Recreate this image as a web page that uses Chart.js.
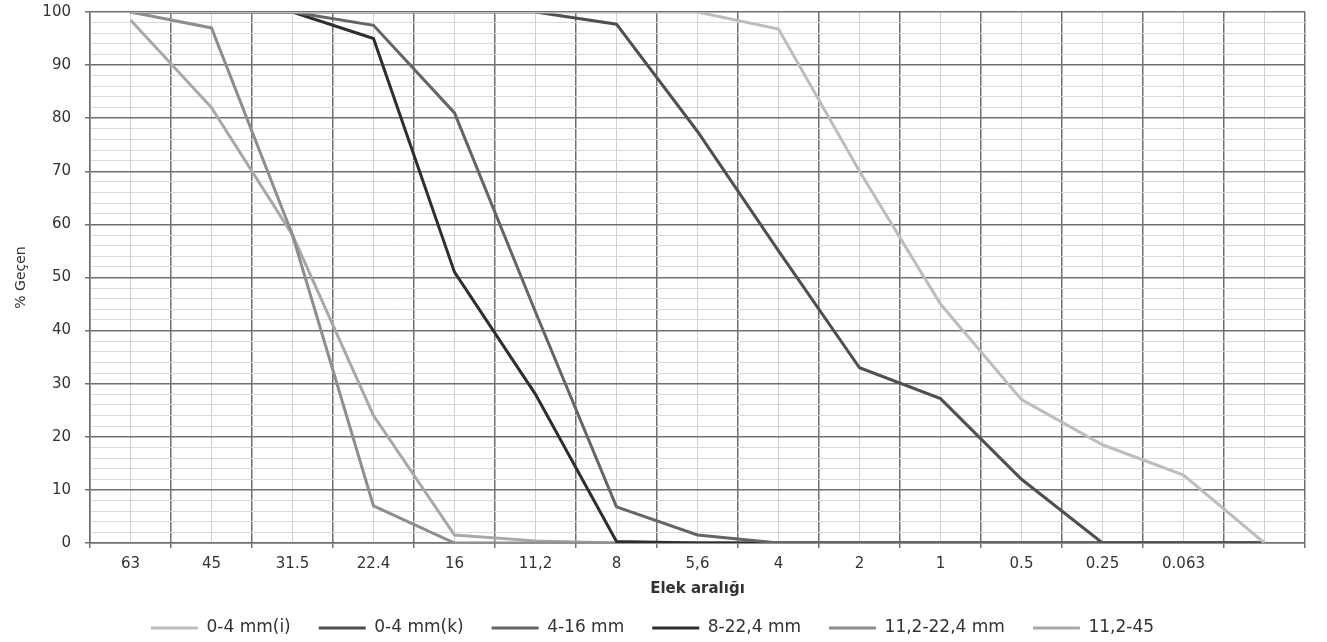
<!DOCTYPE html>
<html>
<head>
<meta charset="utf-8">
<script src="https://cdn.jsdelivr.net/npm/chart.js@4.4.0/dist/chart.umd.min.js"></script>
<style>
  html, body { margin: 0; padding: 0; background: #fff; }
  #chart { display: block; }
</style>
</head>
<body>
<canvas id="chart" width="1327" height="642"></canvas>
<script>
// sieve openings (last column is the pan, no label)
const sieves = ['63', '45', '31.5', '22.4', '16', '11,2', '8', '5,6', '4', '2', '1', '0.5', '0.25', '0.063', ''];

// % passing
const fine_i    = [100, 100, 100, 100, 100, 100, 100, 100, 96.8, 70, 45, 27, 18.5, 12.8, 0];
const fine_k    = [100, 100, 100, 100, 100, 100, 97.7, 77.5, 55, 33, 27.2, 12, 0, 0, 0];
const mid_4_16  = [100, 100, 100, 97.5, 81, 43.5, 6.8, 1.5, 0, 0, 0, 0, 0, 0, 0];
const mid_8_22  = [100, 100, 100, 95, 51, 28, 0.3, 0, 0, 0, 0, 0, 0, 0, 0];
const coarse_22 = [100, 97, 58, 7, 0, 0, 0, 0, 0, 0, 0, 0, 0, 0, 0];
const coarse_45 = [98.5, 82, 58, 24, 1.5, 0.4, 0, 0, 0, 0, 0, 0, 0, 0, 0];

const names  = ['0-4 mm(i)', '0-4 mm(k)', '4-16 mm', '8-22,4 mm', '11,2-22,4 mm', '11,2-45'];
const values = [fine_i, fine_k, mid_4_16, mid_8_22, coarse_22, coarse_45];
const colors = ['#bdbdbd', '#4f4f4f', '#656565', '#2e2e2e', '#8e8e8e', '#a8a8a8'];

Chart.defaults.font.family = '"DejaVu Sans", sans-serif';

const major = c => c.tick && c.tick.value % 10 === 0;

const ctx = document.getElementById('chart').getContext('2d');
new Chart(ctx, {
    type: 'line',
    data: {
        labels: sieves,
        datasets: values.map((v, i) => ({
            label: names[i],
            data: v,
            borderColor: colors[i],
            backgroundColor: colors[i],
            borderWidth: 3,
            pointRadius: 0,
            tension: 0,
            fill: false
        }))
    },
    options: {
        responsive: false,
        animation: false,
        layout: { padding: { top: 12, right: 22, bottom: -4.5, left: 0 } },
        plugins: {
            legend: {
                position: 'bottom',
                labels: { boxWidth: 47, boxHeight: 0, padding: 28, color: '#333', font: { size: 17 } }
            },
            tooltip: { enabled: false }
        },
        scales: {
            x: {
                type: 'category',
                offset: true,
                grid: { offset: true, color: '#707070', lineWidth: 1.5, tickLength: 5 },
                border: { color: '#707070', width: 1.5 },
                ticks: { color: '#333', font: { size: 15 }, padding: 7, autoSkip: false, maxRotation: 0 },
                title: {
                    display: true, text: 'Elek aralığı', color: '#333',
                    font: { size: 15, weight: 'bold' }, padding: { top: 0, bottom: -6.5 }
                }
            },
            xMinor: {
                type: 'category',
                position: 'bottom',
                offset: true,
                z: -1,
                grid: { offset: false, color: '#d2d2d2', lineWidth: 1, drawTicks: false },
                border: { display: false },
                ticks: { display: false }
            },
            y: {
                min: 0,
                max: 100,
                ticks: {
                    stepSize: 2, autoSkip: false, padding: 14, color: '#333', font: { size: 15 },
                    callback: v => (v % 10 === 0 ? v : '')
                },
                grid: {
                    color: c => (major(c) ? '#707070' : '#d9d9d9'),
                    lineWidth: c => (major(c) ? 1.5 : 1),
                    tickColor: c => (major(c) ? '#707070' : 'rgba(0,0,0,0)'),
                    tickLength: 5
                },
                border: { color: '#707070', width: 1.5 },
                title: {
                    display: true, text: '% Geçen', color: '#333',
                    font: { size: 14 }, padding: { top: 13, bottom: 0 }
                },
                afterFit: s => {
                    s.width = 90;
                    s.paddingTop = 0;
                }
            }
        }
    }
});
</script>
</body>
</html>
